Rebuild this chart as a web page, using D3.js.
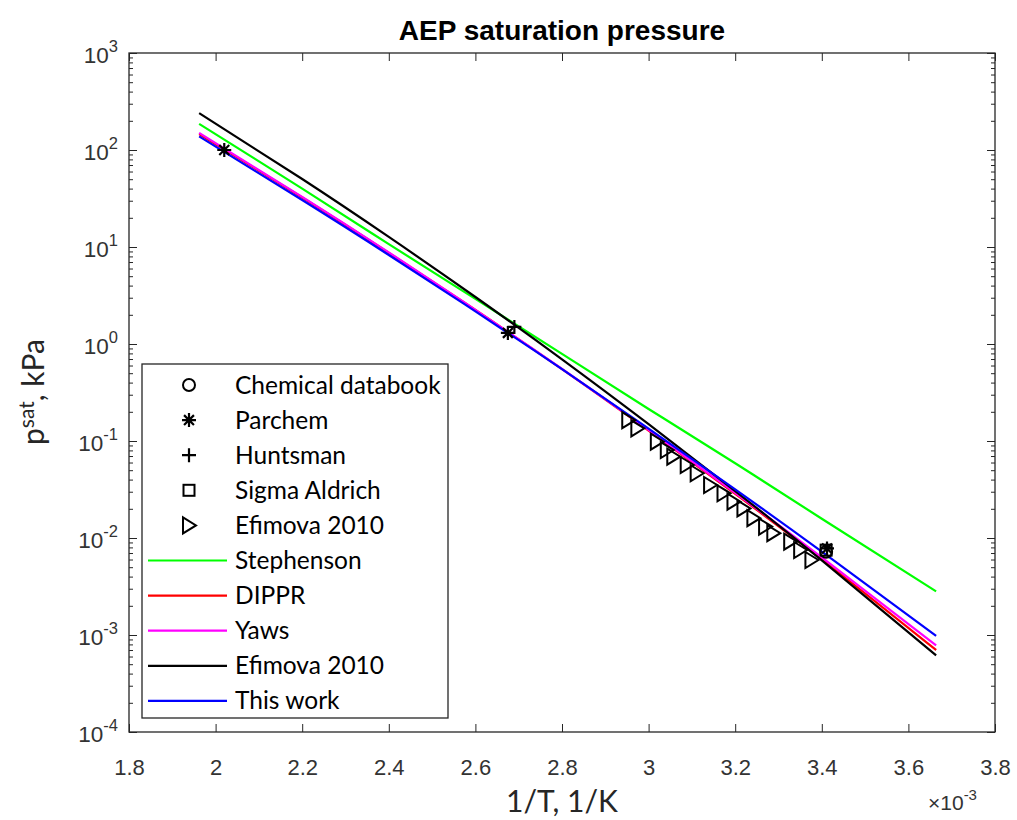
<!DOCTYPE html>
<html><head><meta charset="utf-8">
<script src="https://cdn.jsdelivr.net/npm/d3@7"></script>
<style>body{margin:0;background:#fff}</style>
</head><body><svg id="c" width="1017" height="820"></svg>
<script>
// 1/T in units of 1e-3 1/K; pressures in kPa
const invT = [1.962, 2.2, 2.4, 2.6, 2.8, 3.0, 3.2, 3.4, 3.664];
const stephenson = [186, 40, 10.7, 2.92, 0.79, 0.214, 0.059, 0.0158, 0.00282];
const dippr = [146, 32.4, 8.7, 2.24, 0.55, 0.128, 0.0285, 0.00603, 0.0007];
const yaws = [150, 32.9, 8.81, 2.25, 0.553, 0.130, 0.0292, 0.0063, 0.00078];
const efimovaFit = [240, 50.2, 12.7, 3.05, 0.694, 0.149, 0.0305, 0.00588, 0.000617];
const thisWork = [138, 30.5, 8.28, 2.17, 0.55, 0.134, 0.0317, 0.00723, 0.00098];

const chemX = [3.41], chemP = [0.0072];
const parchemX = [2.02, 2.675, 3.412], parchemP = [100, 1.3, 0.0078];
const huntsmanX = [2.69], huntsmanP = [1.5];
const sigmaX = [3.41], sigmaP = [0.0075];
const efimovaX = [2.953, 2.974, 3.019, 3.042, 3.057, 3.088, 3.111, 3.142, 3.173, 3.196, 3.219, 3.242, 3.269, 3.288, 3.327, 3.350, 3.376];
const efimovaP = [0.164, 0.135, 0.0984, 0.0807, 0.0689, 0.0566, 0.0465, 0.0352, 0.0289, 0.0237, 0.0202, 0.0160, 0.0131, 0.0112, 0.00916, 0.00752, 0.00593];

const xTicks = [1.8, 2.0, 2.2, 2.4, 2.6, 2.8, 3.0, 3.2, 3.4, 3.6, 3.8];
const xTickLabels = ["1.8", "2", "2.2", "2.4", "2.6", "2.8", "3", "3.2", "3.4", "3.6", "3.8"];
const yExps = [-4, -3, -2, -1, 0, 1, 2, 3];

const curves = [
  {name: "Stephenson", color: "#00ff00", vals: stephenson},
  {name: "DIPPR", color: "#ff0000", vals: dippr},
  {name: "Yaws", color: "#ff00ff", vals: yaws},
  {name: "Efimova 2010", color: "#000000", vals: efimovaFit},
  {name: "This work", color: "#0000ff", vals: thisWork}
];

const L = 129, R = 995, T = 53, B = 732;
const svg = d3.select("#c");
const x = d3.scaleLinear().domain([1.8, 3.8]).range([L, R]);
const y = d3.scaleLog().domain([1e-4, 1e3]).range([B, T]);

const tickFont = "Liberation Sans, Arial, sans-serif";
const titleFont = "Liberation Sans, Arial, sans-serif";
const calFont = "Lato, Open Sans, sans-serif";

// axes
const minorVals = [];
for (let e = -4; e < 3; e++) for (let k = 2; k <= 9; k++) minorVals.push(k * Math.pow(10, e));

const gB = svg.append("g").attr("transform", `translate(0,${B})`)
  .call(d3.axisBottom(x).tickValues(xTicks).tickSizeInner(-8).tickSizeOuter(0).tickPadding(27)
    .tickFormat((d, i) => xTickLabels[i]));
const gT = svg.append("g").attr("transform", `translate(0,${T})`)
  .call(d3.axisTop(x).tickValues(xTicks).tickSizeInner(-8).tickSizeOuter(0).tickFormat(""));
const gL = svg.append("g").attr("transform", `translate(${L},0)`)
  .call(d3.axisLeft(y).tickValues(yExps.map(e => Math.pow(10, e))).tickSizeInner(-8).tickSizeOuter(0).tickFormat(""));
const gR = svg.append("g").attr("transform", `translate(${R},0)`)
  .call(d3.axisRight(y).tickValues(yExps.map(e => Math.pow(10, e))).tickSizeInner(-8).tickSizeOuter(0).tickFormat(""));
const gLm = svg.append("g").attr("transform", `translate(${L},0)`)
  .call(d3.axisLeft(y).tickValues(minorVals).tickSizeInner(-4).tickSizeOuter(0).tickFormat(""));
const gRm = svg.append("g").attr("transform", `translate(${R},0)`)
  .call(d3.axisRight(y).tickValues(minorVals).tickSizeInner(-4).tickSizeOuter(0).tickFormat(""));
[gB, gT, gL, gR, gLm, gRm].forEach(g => {
  g.select(".domain").remove();
  g.selectAll("line").attr("stroke", "#262626").attr("stroke-width", 1);
});
gB.selectAll("text").attr("font-family", tickFont).attr("font-size", 22).attr("fill", "#333");

svg.append("rect").attr("x", L).attr("y", T).attr("width", R - L).attr("height", B - T)
  .attr("fill", "none").attr("stroke", "#262626").attr("stroke-width", 1.3);

// y tick labels
yExps.forEach(e => {
  const t = svg.append("text").attr("x", 118).attr("y", y(Math.pow(10, e)) + 10)
    .attr("text-anchor", "end").attr("font-family", tickFont).attr("font-size", 22.5).attr("fill", "#333");
  t.append("tspan").text("10");
  t.append("tspan").attr("dy", -11).attr("font-size", 16.5).text(String(e));
});

// curves
const line = d3.line().x((d, i) => x(invT[i])).y(d => y(d)).curve(d3.curveNatural);
curves.forEach(c => {
  svg.append("path").attr("d", line(c.vals)).attr("fill", "none")
    .attr("stroke", c.color).attr("stroke-width", 2.2);
});

// markers
const markerStroke = "#000";
function drawMarker(g, type, cx, cy) {
  if (type === "circle") {
    g.append("circle").attr("cx", cx).attr("cy", cy).attr("r", 6).attr("fill", "none").attr("stroke", markerStroke).attr("stroke-width", 2);
  } else if (type === "star") {
    const s = 7;
    const p = [];
    for (let a = 0; a < 4; a++) {
      const ang = a * Math.PI / 4;
      p.push(`M${cx - s * Math.cos(ang)},${cy - s * Math.sin(ang)}L${cx + s * Math.cos(ang)},${cy + s * Math.sin(ang)}`);
    }
    g.append("path").attr("d", p.join("")).attr("stroke", markerStroke).attr("stroke-width", 2.2).attr("fill", "none");
  } else if (type === "plus") {
    const s = 7;
    g.append("path").attr("d", `M${cx - s},${cy}L${cx + s},${cy}M${cx},${cy - s}L${cx},${cy + s}`).attr("stroke", markerStroke).attr("stroke-width", 2.2);
  } else if (type === "square") {
    g.append("rect").attr("x", cx - 5.5).attr("y", cy - 5.5).attr("width", 11).attr("height", 11).attr("fill", "none").attr("stroke", markerStroke).attr("stroke-width", 2);
  } else if (type === "tri") {
    g.append("path").attr("d", `M${cx - 6},${cy - 8}L${cx + 7},${cy}L${cx - 6},${cy + 8}Z`).attr("fill", "none").attr("stroke", markerStroke).attr("stroke-width", 2);
  }
}
const mg = svg.append("g");
efimovaX.forEach((v, i) => drawMarker(mg, "tri", x(v), y(efimovaP[i])));
chemX.forEach((v, i) => drawMarker(mg, "circle", x(v), y(chemP[i])));
sigmaX.forEach((v, i) => drawMarker(mg, "square", x(v), y(sigmaP[i])));
huntsmanX.forEach((v, i) => drawMarker(mg, "plus", x(v), y(huntsmanP[i])));
parchemX.forEach((v, i) => drawMarker(mg, "star", x(v), y(parchemP[i])));

// title & labels
svg.append("text").attr("x", 562).attr("y", 40).attr("text-anchor", "middle")
  .attr("font-family", titleFont).attr("font-weight", "bold").attr("font-size", 28).attr("fill", "#000")
  .text("AEP saturation pressure");
svg.append("text").attr("x", 562).attr("y", 812).attr("text-anchor", "middle")
  .attr("font-family", calFont).attr("font-size", 30).attr("fill", "#262626").text("1/T, 1/K");
const yl = svg.append("text").attr("transform", "translate(44,392) rotate(-90)").attr("text-anchor", "middle")
  .attr("font-family", calFont).attr("font-size", 30).attr("fill", "#262626");
yl.append("tspan").text("p");
yl.append("tspan").attr("dy", -10).attr("font-size", 21).text("sat");
yl.append("tspan").attr("dy", 10).text(", kPa");
const ex = svg.append("text").attr("x", 928).attr("y", 810).attr("font-family", tickFont).attr("font-size", 21).attr("fill", "#333");
ex.append("tspan").text("\u00d710");
ex.append("tspan").attr("dy", -10).attr("font-size", 15).text("-3");

// legend
const leg = svg.append("g");
leg.append("rect").attr("x", 142).attr("y", 364).attr("width", 306).attr("height", 354)
  .attr("fill", "#fff").attr("stroke", "#262626").attr("stroke-width", 1.3);
const legItems = [
  {name: "Chemical databook", type: "circle"},
  {name: "Parchem", type: "star"},
  {name: "Huntsman", type: "plus"},
  {name: "Sigma Aldrich", type: "square"},
  {name: "Efimova 2010", type: "tri"}
].concat(curves.map(c => ({name: c.name, color: c.color})));
legItems.forEach((it, i) => {
  const ry = 385 + i * 35.1;
  if (it.type) drawMarker(leg, it.type, 189, ry);
  else leg.append("line").attr("x1", 148).attr("x2", 227).attr("y1", ry).attr("y2", ry)
    .attr("stroke", it.color).attr("stroke-width", 2.2);
  leg.append("text").attr("x", 235).attr("y", ry).attr("dy", "0.35em")
    .attr("font-family", calFont).attr("font-size", 24.5).attr("fill", "#000").text(it.name);
});
</script>
</body></html>
